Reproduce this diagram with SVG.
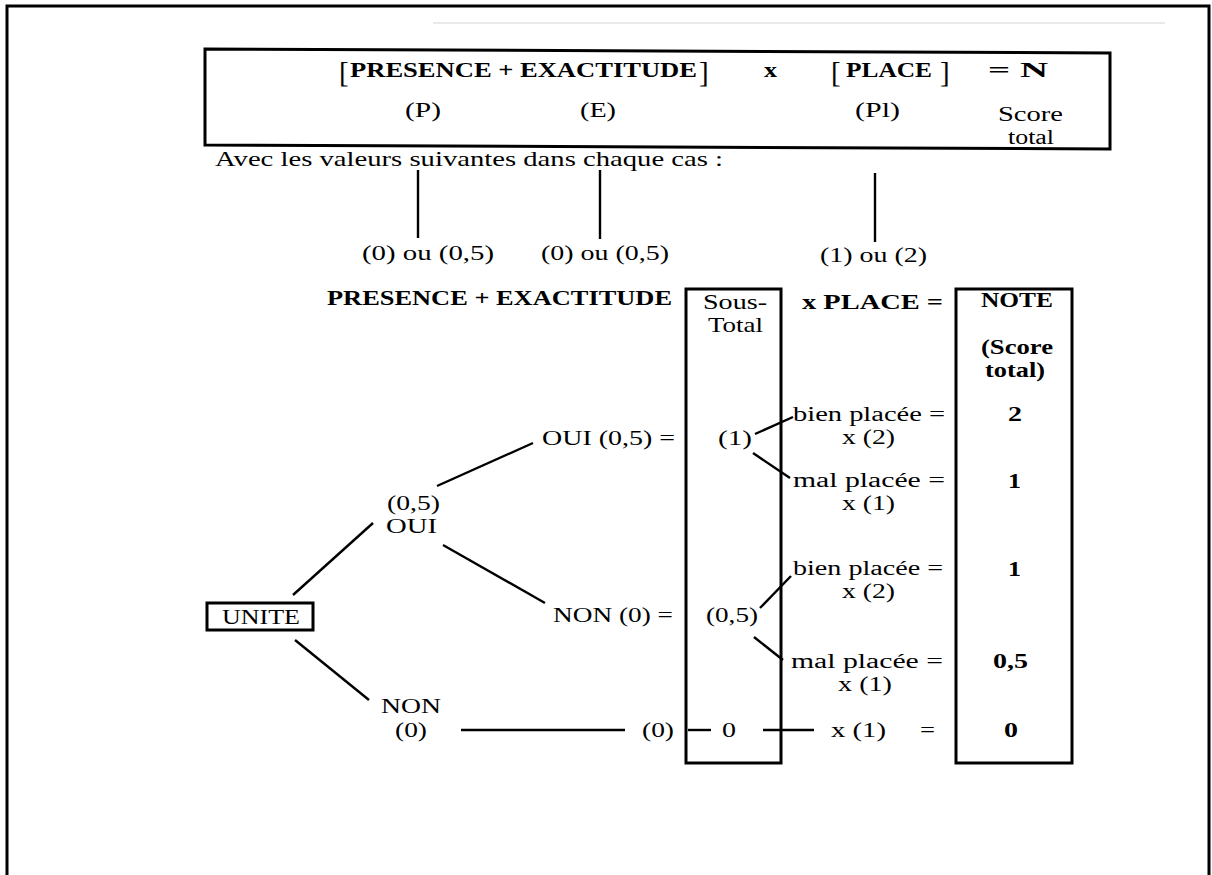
<svg xmlns="http://www.w3.org/2000/svg" width="1212" height="875" viewBox="0 0 1212 875">
<style>
text{font-family:"Liberation Serif","Times New Roman",serif;fill:#000}
.r{font-size:22px}
.b{font-size:22px;font-weight:bold}
.s{font-size:20px}
.m{font-size:21px}
.br{font-size:29px}
.box{fill:none;stroke:#000;stroke-width:3}
.ln{stroke:#000;stroke-width:2.4;fill:none}
</style>
<rect x="0" y="0" width="1212" height="875" fill="#fff"/>
<path d="M7,875 V6 H1209 V875" fill="none" stroke="#000" stroke-width="3"/>
<line x1="433" y1="23" x2="1165" y2="23" stroke="#e2e2e2" stroke-width="1.5"/>

<g id="formula">
<polygon class="box" points="205,49 1110,53 1110,149 205,145" stroke-width="3.5"/>
<text class="br" x="339" y="82">[</text>
<text class="b" x="350" y="77" textLength="347" lengthAdjust="spacingAndGlyphs">PRESENCE  +  EXACTITUDE</text>
<text class="br" x="699" y="82">]</text>
<text class="b" x="764" y="77" textLength="13" lengthAdjust="spacingAndGlyphs">x</text>
<text class="br" x="831" y="82">[</text>
<text class="b" x="846" y="77" textLength="86" lengthAdjust="spacingAndGlyphs">PLACE</text>
<text class="br" x="940" y="82">]</text>
<text class="b" x="988" y="77" textLength="60" lengthAdjust="spacingAndGlyphs">= N</text>
<text class="r" x="405" y="117" textLength="36" lengthAdjust="spacingAndGlyphs">(P)</text>
<text class="r" x="580" y="117" textLength="36" lengthAdjust="spacingAndGlyphs">(E)</text>
<text class="r" x="855" y="117" textLength="45" lengthAdjust="spacingAndGlyphs">(Pl)</text>
<text class="s" x="998" y="121" textLength="65" lengthAdjust="spacingAndGlyphs">Score</text>
<text class="s" x="1008" y="144" textLength="46" lengthAdjust="spacingAndGlyphs">total</text>
</g>

<g id="values">
<text class="r" x="215" y="166" textLength="508" lengthAdjust="spacingAndGlyphs">Avec les valeurs suivantes dans chaque cas :</text>
<text class="r" x="362" y="260" textLength="132" lengthAdjust="spacingAndGlyphs">(0) ou (0,5)</text>
<text class="r" x="541" y="260" textLength="128" lengthAdjust="spacingAndGlyphs">(0) ou (0,5)</text>
<text class="r" x="820" y="262" textLength="107" lengthAdjust="spacingAndGlyphs">(1) ou (2)</text>
</g>

<g id="header2">
<text class="b" x="327" y="305" textLength="345" lengthAdjust="spacingAndGlyphs">PRESENCE  +  EXACTITUDE</text>
<text class="b" x="802" y="309" textLength="141" lengthAdjust="spacingAndGlyphs">x  PLACE  =</text>
</g>

<g id="sous-total">
<rect class="box" x="686" y="289" width="95" height="474"/>
<text class="m" x="703" y="309" textLength="64" lengthAdjust="spacingAndGlyphs">Sous-</text>
<text class="m" x="708" y="332" textLength="55" lengthAdjust="spacingAndGlyphs">Total</text>
<text class="r" x="718" y="445" textLength="34" lengthAdjust="spacingAndGlyphs">(1)</text>
<text class="r" x="706" y="622" textLength="52" lengthAdjust="spacingAndGlyphs">(0,5)</text>
<text class="r" x="722" y="737" textLength="14" lengthAdjust="spacingAndGlyphs">0</text>
</g>

<g id="note">
<rect class="box" x="956" y="289" width="116" height="474"/>
<text class="b" x="981" y="307" textLength="72" lengthAdjust="spacingAndGlyphs">NOTE</text>
<text class="b m" x="981" y="354" textLength="72" lengthAdjust="spacingAndGlyphs">(Score</text>
<text class="b m" x="985" y="377" textLength="60" lengthAdjust="spacingAndGlyphs">total)</text>
<text class="b" x="1008" y="421" textLength="14" lengthAdjust="spacingAndGlyphs">2</text>
<text class="b" x="1008" y="488" textLength="13" lengthAdjust="spacingAndGlyphs">1</text>
<text class="b" x="1008" y="576" textLength="13" lengthAdjust="spacingAndGlyphs">1</text>
<text class="b" x="993" y="668" textLength="35" lengthAdjust="spacingAndGlyphs">0,5</text>
<text class="b" x="1004" y="737" textLength="14" lengthAdjust="spacingAndGlyphs">0</text>
</g>

<g id="unite">
<rect class="box" x="207" y="603" width="106" height="27"/>
<text class="r" x="222" y="624" textLength="78" lengthAdjust="spacingAndGlyphs">UNITE</text>
</g>

<g id="oui">
<text class="s" x="387" y="510" textLength="53" lengthAdjust="spacingAndGlyphs">(0,5)</text>
<text class="s" x="386" y="533" textLength="51" lengthAdjust="spacingAndGlyphs">OUI</text>
</g>

<g id="non">
<text class="m" x="381" y="713" textLength="60" lengthAdjust="spacingAndGlyphs">NON</text>
<text class="m" x="395" y="737" textLength="32" lengthAdjust="spacingAndGlyphs">(0)</text>
</g>

<g id="oui-exact">
<text class="r" x="542" y="445" textLength="133" lengthAdjust="spacingAndGlyphs">OUI (0,5) =</text>
</g>

<g id="non-exact">
<text class="r" x="553" y="622" textLength="120" lengthAdjust="spacingAndGlyphs">NON (0) =</text>
</g>

<g id="non-zero">
<text class="r" x="642" y="737" textLength="32" lengthAdjust="spacingAndGlyphs">(0)</text>
<text class="r" x="831" y="737" textLength="55" lengthAdjust="spacingAndGlyphs">x (1)</text>
<text class="r" x="920" y="737" textLength="15" lengthAdjust="spacingAndGlyphs">=</text>
</g>

<g id="place-1-bien">
<text class="s" x="793" y="421" textLength="152" lengthAdjust="spacingAndGlyphs">bien placée =</text>
<text class="s" x="842" y="444" textLength="53" lengthAdjust="spacingAndGlyphs">x (2)</text>
</g>
<g id="place-1-mal">
<text class="s" x="793" y="487" textLength="152" lengthAdjust="spacingAndGlyphs">mal  placée =</text>
<text class="s" x="842" y="510" textLength="53" lengthAdjust="spacingAndGlyphs">x (1)</text>
</g>
<g id="place-2-bien">
<text class="s" x="793" y="575" textLength="150" lengthAdjust="spacingAndGlyphs">bien placée =</text>
<text class="s" x="842" y="598" textLength="53" lengthAdjust="spacingAndGlyphs">x (2)</text>
</g>
<g id="place-2-mal">
<text class="s" x="791" y="668" textLength="152" lengthAdjust="spacingAndGlyphs">mal  placée =</text>
<text class="s" x="838" y="691" textLength="54" lengthAdjust="spacingAndGlyphs">x (1)</text>
</g>

<g id="connectors">
<line class="ln" x1="418" y1="170" x2="418" y2="238"/>
<line class="ln" x1="600" y1="170" x2="600" y2="239"/>
<line class="ln" x1="875" y1="173" x2="875" y2="242"/>
<line class="ln" x1="293" y1="595" x2="373" y2="523"/>
<line class="ln" x1="437" y1="486" x2="533" y2="443"/>
<line class="ln" x1="443" y1="545" x2="545" y2="603"/>
<line class="ln" x1="295" y1="640" x2="369" y2="700"/>
<line class="ln" x1="755" y1="434" x2="793" y2="417"/>
<line class="ln" x1="753" y1="453" x2="790" y2="478"/>
<line class="ln" x1="760" y1="608" x2="791" y2="576"/>
<line class="ln" x1="754" y1="637" x2="783" y2="660"/>
<line class="ln" x1="461" y1="730" x2="625" y2="730"/>
<line class="ln" x1="688" y1="730" x2="711" y2="730"/>
<line class="ln" x1="763" y1="730" x2="814" y2="730"/>
</g>
</svg>
